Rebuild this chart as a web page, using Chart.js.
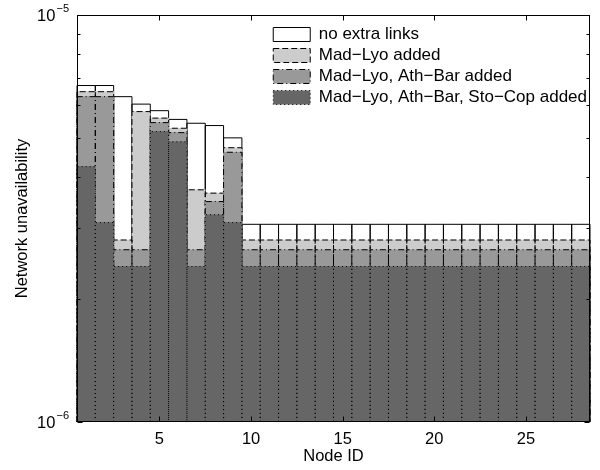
<!DOCTYPE html>
<html>
<head>
<meta charset="utf-8">
<script src="https://cdn.jsdelivr.net/npm/chart.js@4.4.1/dist/chart.umd.min.js"></script>
<style>
  body { margin: 0; background: #fff; }
  canvas { display: block; }
</style>
</head>
<body>
<canvas id="chart" width="600" height="470"></canvas>
<script>
"use strict";

// node ids along the x axis
var nodeIds = ['1', '2', '3', '4', '5', '6', '7', '8', '9', '10', '11', '12', '13', '14',
               '15', '16', '17', '18', '19', '20', '21', '22', '23', '24', '25', '26', '27', '28'];

var seriesNames = ['no extra links', 'Mad\u2212Lyo added', 'Mad\u2212Lyo, Ath\u2212Bar added',
                   'Mad\u2212Lyo, Ath\u2212Bar, Sto\u2212Cop added'];

// network unavailability per node
var noExtraLinks = [6.71e-6, 6.71e-6, 6.30e-6, 6.04e-6, 5.82e-6, 5.54e-6, 5.42e-6, 5.35e-6, 4.99e-6,
                    3.06e-6, 3.06e-6, 3.06e-6, 3.06e-6, 3.06e-6, 3.06e-6, 3.06e-6, 3.06e-6, 3.06e-6, 3.06e-6,
                    3.06e-6, 3.06e-6, 3.06e-6, 3.06e-6, 3.06e-6, 3.06e-6, 3.06e-6, 3.06e-6, 3.06e-6];
var madLyo       = [6.48e-6, 6.48e-6, 2.80e-6, 5.79e-6, 5.58e-6, 5.27e-6, 3.72e-6, 3.65e-6, 4.72e-6,
                    2.80e-6, 2.80e-6, 2.80e-6, 2.80e-6, 2.80e-6, 2.80e-6, 2.80e-6, 2.80e-6, 2.80e-6, 2.80e-6,
                    2.80e-6, 2.80e-6, 2.80e-6, 2.80e-6, 2.80e-6, 2.80e-6, 2.80e-6, 2.80e-6, 2.80e-6];
var madLyoAthBar = [6.30e-6, 6.30e-6, 2.65e-6, 2.65e-6, 5.44e-6, 5.14e-6, 2.65e-6, 3.48e-6, 4.60e-6,
                    2.65e-6, 2.65e-6, 2.65e-6, 2.65e-6, 2.65e-6, 2.65e-6, 2.65e-6, 2.65e-6, 2.65e-6, 2.65e-6,
                    2.65e-6, 2.65e-6, 2.65e-6, 2.65e-6, 2.65e-6, 2.65e-6, 2.65e-6, 2.65e-6, 2.65e-6];
var allThree     = [4.24e-6, 3.09e-6, 2.41e-6, 2.41e-6, 5.17e-6, 4.88e-6, 2.41e-6, 3.23e-6, 3.09e-6,
                    2.41e-6, 2.41e-6, 2.41e-6, 2.41e-6, 2.41e-6, 2.41e-6, 2.41e-6, 2.41e-6, 2.41e-6, 2.41e-6,
                    2.41e-6, 2.41e-6, 2.41e-6, 2.41e-6, 2.41e-6, 2.41e-6, 2.41e-6, 2.41e-6, 2.41e-6];

var fills = ['#ffffff', '#cccccc', '#999999', '#666666'];
var dashes = [[], [6, 3], [6, 3, 1, 3], [1, 3]];

var fontFamily = "'Liberation Sans', Arial, sans-serif";
Chart.defaults.font.family = fontFamily;
Chart.defaults.font.size = 16.5;
Chart.defaults.color = '#000';

function isDecade(v) {
    var l = Math.log10(v);
    return Math.abs(l - Math.round(l)) < 1e-6;
}

// bar elements have no dash option, so outline each bar after its dataset is drawn
var barOutlines = {
    id: 'barOutlines',
    afterDatasetDraw: function(chart, args) {
        var ctx = chart.ctx;
        ctx.save();
        ctx.strokeStyle = '#000';
        ctx.lineWidth = 1;
        ctx.setLineDash(dashes[args.index]);
        args.meta.data.forEach(function(bar) {
            var p = bar.getProps(['x', 'y', 'base', 'width'], true);
            var l = p.x - p.width / 2, r = p.x + p.width / 2;
            ctx.beginPath();
            ctx.moveTo(l, p.base);
            ctx.lineTo(l, p.y);
            ctx.lineTo(r, p.y);
            ctx.lineTo(r, p.base);
            ctx.stroke();
        });
        ctx.restore();
    }
};

// box round the plot with short inward tick marks, plus 10^n labels with a real superscript
var frameTicks = {
    id: 'frameTicks',
    afterDatasetsDraw: function(chart) {
        var ctx = chart.ctx, a = chart.chartArea;
        var xs = chart.scales.x, ys = chart.scales.y;
        var L = Math.round(a.left) + 0.5, R = Math.round(a.right) - 0.5;
        var T = Math.round(a.top) + 0.5, B = Math.round(a.bottom) - 0.5;
        ctx.save();
        ctx.strokeStyle = '#000';
        ctx.lineWidth = 1;
        ctx.strokeRect(L, T, R - L, B - T);
        ctx.beginPath();
        ys.ticks.forEach(function(t) {
            var py = Math.round(ys.getPixelForValue(t.value)) + 0.5;
            var len = isDecade(t.value) ? 5 : 3;
            ctx.moveTo(L, py); ctx.lineTo(L + len, py);
            ctx.moveTo(R, py); ctx.lineTo(R - len, py);
        });
        nodeIds.forEach(function(id, i) {
            if ((i + 1) % 5 !== 0) return;
            var px = Math.round(xs.getPixelForValue(i)) + 0.5;
            ctx.moveTo(px, B); ctx.lineTo(px, B - 5);
            ctx.moveTo(px, T); ctx.lineTo(px, T + 5);
        });
        ctx.stroke();

        ctx.fillStyle = '#000';
        ctx.textAlign = 'right';
        ctx.textBaseline = 'alphabetic';
        ys.ticks.forEach(function(t) {
            if (!isDecade(t.value)) return;
            var py = ys.getPixelForValue(t.value);
            var exp = '\u2212' + Math.abs(Math.round(Math.log10(t.value)));
            var right = a.left - 8;
            ctx.font = '11px ' + fontFamily;
            ctx.fillText(exp, right, py - 3);
            var w = ctx.measureText(exp).width;
            ctx.font = '16.5px ' + fontFamily;
            ctx.fillText('10', right - w - 1, py + 6);
        });
        ctx.restore();
    }
};

// legend sits in the chart area; push it to the top right corner
var legendPlacer = {
    id: 'legendPlacer',
    afterLayout: function(chart) {
        var lg = chart.legend, a = chart.chartArea;
        lg.left = a.right - lg.width + 7;
        lg.top = a.top + 7;
    }
};

var datasets = [noExtraLinks, madLyo, madLyoAthBar, allThree].map(function(vals, i) {
    return {
        label: seriesNames[i],
        data: vals,
        backgroundColor: fills[i],
        borderWidth: 0,
        order: 3 - i   // white drawn first, darkest last
    };
});

new Chart(document.getElementById('chart'), {
    type: 'bar',
    data: { labels: nodeIds, datasets: datasets },
    options: {
        responsive: false,
        animation: false,
        layout: { padding: { top: 15, right: 10, left: 0, bottom: 0 } },
        datasets: { bar: { categoryPercentage: 1, barPercentage: 1 } },
        scales: {
            x: {
                stacked: true,
                grid: { display: false, drawTicks: false },
                border: { display: false },
                ticks: {
                    autoSkip: false,
                    maxRotation: 0,
                    padding: 8,
                    callback: function(val, i) { return (i + 1) % 5 === 0 ? nodeIds[i] : ''; }
                },
                title: { display: true, text: 'Node ID', padding: { top: 0, bottom: 4 } },
                afterFit: function(s) { s.height = 48; }
            },
            y: {
                type: 'logarithmic',
                stacked: false,
                min: 1e-6,
                max: 1e-5,
                grid: { display: false, drawTicks: false },
                border: { display: false },
                ticks: {
                    autoSkip: false,
                    callback: function() { return ''; }
                },
                title: { display: true, text: 'Network unavailability', padding: { top: 13, bottom: 0 } },
                afterFit: function(s) { s.width = 77; }
            }
        },
        plugins: {
            tooltip: { enabled: false },
            legend: {
                position: 'chartArea',
                align: 'start',
                labels: {
                    font: { size: 17 },
                    boxWidth: 37,
                    boxHeight: 14,
                    padding: 4,
                    generateLabels: function() {
                        return seriesNames.map(function(name, i) {
                            return {
                                text: name,
                                fillStyle: fills[i],
                                strokeStyle: '#000',
                                lineWidth: 1,
                                lineDash: dashes[i],
                                datasetIndex: i
                            };
                        });
                    }
                }
            }
        }
    },
    plugins: [barOutlines, frameTicks, legendPlacer]
});
</script>
</body>
</html>
